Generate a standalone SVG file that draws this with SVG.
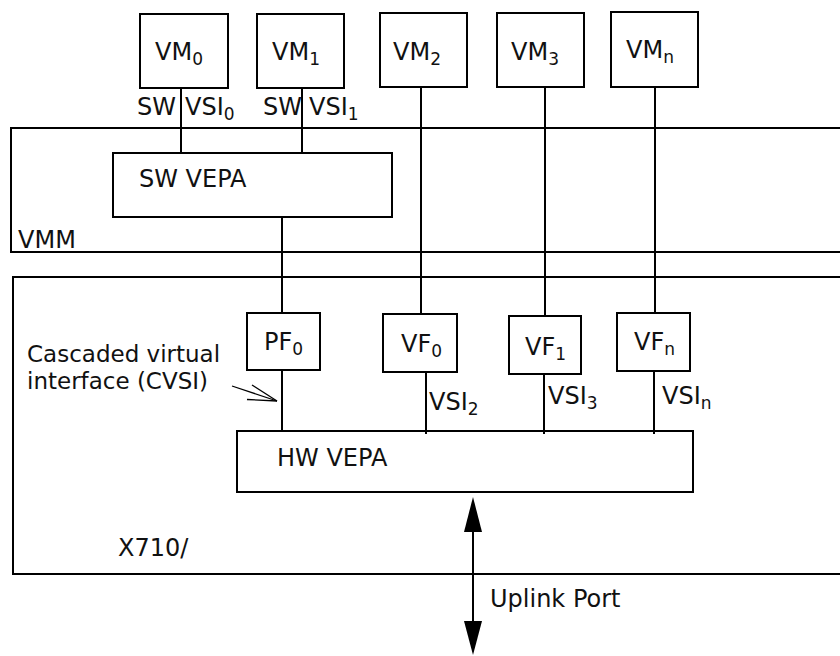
<svg xmlns="http://www.w3.org/2000/svg" width="840" height="656" viewBox="0 0 840 656">
<defs>
<style>
.b{fill:none;stroke:#000;stroke-width:2}
.l{stroke:#000;stroke-width:2;fill:none}
text{font-family:"DejaVu Sans","Verdana",sans-serif;font-size:24px;fill:#111}
.s{font-size:17px}
.c{font-size:23px}
</style>
</defs>
<rect width="840" height="656" fill="#fff"/>
<g id="vmm">
<rect class="b" x="11" y="128" width="840" height="124"/>
<text x="18" y="248">VMM</text>
</g>
<g id="x710">
<rect class="b" x="13" y="277" width="840" height="297"/>
<text x="118" y="556">X710/</text>
</g>
<g id="connectors">
<line class="l" x1="181" y1="88" x2="181" y2="154"/>
<line class="l" x1="302" y1="88" x2="302" y2="154"/>
<line class="l" x1="282" y1="217" x2="282" y2="313"/>
<line class="l" x1="421" y1="87" x2="421" y2="314"/>
<line class="l" x1="545" y1="86" x2="545" y2="316"/>
<line class="l" x1="655" y1="87" x2="655" y2="313"/>
<line class="l" x1="282" y1="370" x2="282" y2="432"/>
<line class="l" x1="426" y1="372" x2="426" y2="434"/>
<line class="l" x1="544" y1="374" x2="544" y2="434"/>
<line class="l" x1="654" y1="371" x2="654" y2="434"/>
<line class="l" x1="473" y1="520" x2="473" y2="630"/>
<polygon points="473,497 464,532 482,532" fill="#000"/>
<polygon points="473,655 464,621 482,621" fill="#000"/>
<g stroke="#000" stroke-width="1.3" fill="none">
<line x1="232" y1="386" x2="277" y2="401"/>
<line x1="252" y1="385" x2="277" y2="401"/>
<line x1="247" y1="399.5" x2="277" y2="401"/>
</g>
</g>
<g id="vm0"><rect class="b" x="140" y="14" width="88" height="74"/><text x="155" y="60">VM<tspan class="s" dy="5">0</tspan></text></g>
<g id="vm1"><rect class="b" x="257" y="14" width="87" height="74"/><text x="272" y="60">VM<tspan class="s" dy="5">1</tspan></text></g>
<g id="vm2"><rect class="b" x="380" y="13" width="87" height="74"/><text x="393" y="60">VM<tspan class="s" dy="5">2</tspan></text></g>
<g id="vm3"><rect class="b" x="497" y="13" width="87" height="74"/><text x="511" y="60">VM<tspan class="s" dy="5">3</tspan></text></g>
<g id="vmn"><rect class="b" x="611" y="12" width="87" height="75"/><text x="626" y="58">VM<tspan class="s" dy="5">n</tspan></text></g>
<g id="swlabels">
<text x="137" y="115">SW</text><text x="185" y="115">VSI<tspan class="s" dy="5">0</tspan></text>
<text x="263" y="115">SW</text><text x="309" y="115">VSI<tspan class="s" dy="5">1</tspan></text>
</g>
<g id="swvepa"><rect class="b" x="113" y="153" width="279" height="64"/><text x="139" y="187">SW VEPA</text></g>
<g id="pf0"><rect class="b" x="247" y="313" width="73" height="57"/><text x="264" y="350">PF<tspan class="s" dy="5">0</tspan></text></g>
<g id="vf0"><rect class="b" x="383" y="314" width="74" height="58"/><text x="401" y="352">VF<tspan class="s" dy="5">0</tspan></text></g>
<g id="vf1"><rect class="b" x="509" y="316" width="72" height="58"/><text x="525" y="355">VF<tspan class="s" dy="5">1</tspan></text></g>
<g id="vfn"><rect class="b" x="617" y="313" width="73" height="58"/><text x="634" y="350">VF<tspan class="s" dy="5">n</tspan></text></g>
<g id="vsilabels">
<text x="429" y="410">VSI<tspan class="s" dy="5">2</tspan></text>
<text x="548" y="404">VSI<tspan class="s" dy="5">3</tspan></text>
<text x="662" y="404">VSI<tspan class="s" dy="5">n</tspan></text>
</g>
<g id="cvsi"><text class="c" x="27" y="362">Cascaded virtual</text><text class="c" x="27" y="389">interface (CVSI)</text></g>
<g id="hwvepa"><rect class="b" x="237" y="431" width="456" height="61"/><text x="277" y="466">HW VEPA</text></g>
<g id="uplink"><text x="490" y="607">Uplink Port</text></g>
</svg>
